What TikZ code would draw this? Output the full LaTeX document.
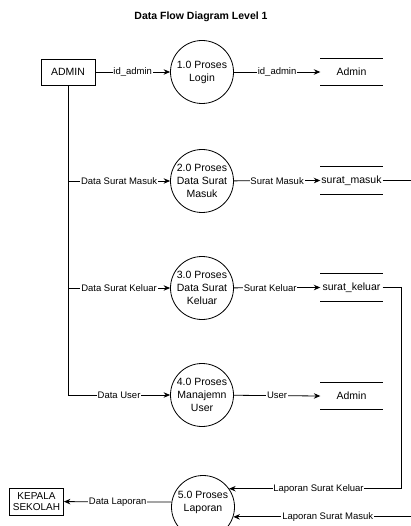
\documentclass[tikz,border=0pt]{standalone}
\usepackage{fontspec}
\setmainfont{Liberation Sans}
\usetikzlibrary{arrows.meta}
\begin{document}
\begin{tikzpicture}[x=1pt,y=-1pt,
  every node/.style={font=\fontsize{10.5}{13}\selectfont, align=center},
  entity/.style={draw, line width=0.8pt, inner sep=1.5pt},
  proc/.style={draw, circle, line width=0.8pt, minimum size=63pt, inner sep=0pt},
  store/.style={minimum width=62pt, minimum height=27pt, inner sep=0pt},
  lbl/.style={fill=white, inner sep=0.8pt, font=\fontsize{9.5}{11}\selectfont},
  flow/.style={line width=0.8pt, -{Stealth[length=6.5pt,width=5.5pt]}},
  line/.style={line width=0.8pt}]
\useasboundingbox (0,0) rectangle (410,526);

\node[font=\bfseries\fontsize{10.5}{12}\selectfont] (title) at (201,17) {Data Flow Diagram Level 1};

\node[entity, minimum width=54pt, minimum height=26pt] (admin) at (68,72) {ADMIN};
\node[entity, minimum width=54pt, minimum height=27pt, font=\fontsize{10}{12}\selectfont] (kepala) at (36.5,501.5) {KEPALA\\[-0.5pt]SEKOLAH};

\node[proc] (c1) at (202,72) {1.0 Proses\\Login};
\node[proc] (c2) at (202,181) {2.0 Proses\\Data Surat\\Masuk};
\node[proc] (c3) at (202,288) {3.0 Proses\\Data Surat\\Keluar};
\node[proc] (c4) at (202,395) {4.0 Proses\\Manajemn\\User};
\node[proc, label={[yshift=5pt]center:5.0 Proses\\Laporan}] (c5) at (203,507) {};

\node[store] (s1) at (351.5,72) {Admin};
\node[store] (s2) at (351.5,180.5) {surat\_masuk};
\node[store] (s3) at (351.5,287.5) {surat\_keluar};
\node[store] (s4) at (351.5,396) {Admin};
\foreach \s in {s1,s2,s3,s4}{
  \draw[line] (\s.north west) -- (\s.north east);
  \draw[line] (\s.south west) -- (\s.south east);
}

\coordinate (r1) at (401,0);
\coordinate (r2) at (422,0);

\draw[flow] (admin) -- node[lbl]{id\_admin} (c1);
\draw[flow] (c1) -- node[lbl]{id\_admin} (s1.west);

\draw[line] (admin.south) -- (admin.south |- c4);
\draw[flow] (admin.south |- c2) -- node[lbl]{Data Surat Masuk} (c2);
\draw[flow] (admin.south |- c3) -- node[lbl]{Data Surat Keluar} (c3);
\draw[flow] (admin.south |- c4) -- node[lbl]{Data User} (c4);

\draw[flow] (c2) -- node[lbl]{Surat Masuk} (s2.west);
\draw[flow] (c3) -- node[lbl,pos=0.42]{Surat Keluar} (s3.west);
\draw[flow] (c4) -- node[lbl]{User} (s4.west);

\draw[flow] (s3.east) -- (s3.east -| r1) |- node[lbl,pos=0.74]{Laporan Surat Keluar} (c5.35);
\draw[flow] (s2.east) -- (s2.east -| r2) |- node[lbl,pos=0.75]{Laporan Surat Masuk} (c5.-18);

\draw[flow] (c5.171) -- node[lbl]{Data Laporan} (kepala);
\end{tikzpicture}
\end{document}
